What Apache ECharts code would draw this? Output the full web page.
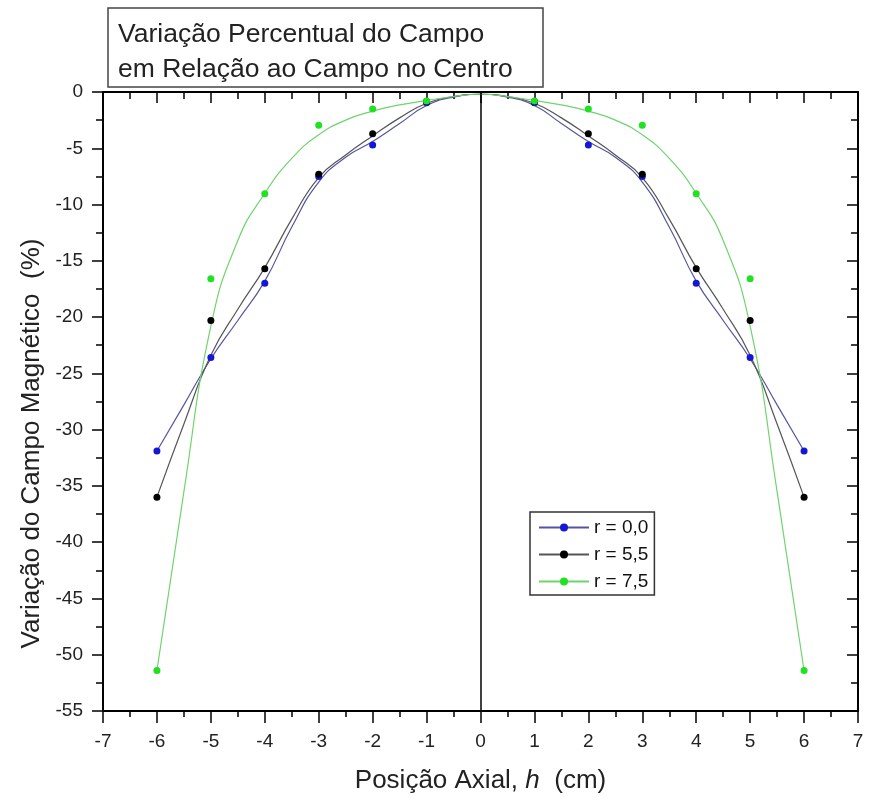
<!DOCTYPE html>
<html>
<head>
<meta charset="utf-8">
<title>Variação Percentual do Campo</title>
<script src="https://cdn.jsdelivr.net/npm/echarts@6/dist/echarts.min.js"></script>
<style>
    html, body { margin: 0; padding: 0; background: #fff; }
    #fieldChart { width: 871px; height: 803px; }
</style>
</head>
<body>
<div id="fieldChart"></div>
<script>
// nomes das curvas
var seriesNames = ['r = 0,0', 'r = 5,5', 'r = 7,5'];

// pontos medidos (posição axial h em cm)
var hPoints = [-6, -5, -4, -3, -2, -1, 1, 2, 3, 4, 5, 6];
var r00Points = [-31.9, -23.6, -17.0, -7.5, -4.7, -0.95, -0.95, -4.7, -7.5, -17.0, -23.6, -31.9];
var r55Points = [-36.0, -20.3, -15.7, -7.3, -3.7, -0.85, -0.85, -3.7, -7.3, -15.7, -20.3, -36.0];
var r75Points = [-51.4, -16.6, -9.05, -2.95, -1.5, -0.8, -0.8, -1.5, -2.95, -9.05, -16.6, -51.4];

var hCurve = [-6, -5.5, -5, -4.5, -4, -3.5, -3, -2.5, -2, -1.5, -1, -0.5, 0,
              0.5, 1, 1.5, 2, 2.5, 3, 3.5, 4, 4.5, 5, 5.5, 6];
var r00Curve = [-31.9, -27.8, -23.7, -20.3, -16.8, -12.0, -8.0, -5.8, -4.4, -2.8, -1.2, -0.45, -0.2,
                -0.45, -1.2, -2.8, -4.4, -5.8, -8.0, -12.0, -16.8, -20.3, -23.7, -27.8, -31.9];
var r55Curve = [-36.0, -29.5, -23.4, -19.3, -15.6, -11.3, -7.6, -5.6, -3.9, -2.3, -1.0, -0.4, -0.2,
                -0.4, -1.0, -2.3, -3.9, -5.6, -7.6, -11.3, -15.6, -19.3, -23.4, -29.5, -36.0];
var r75Curve = [-51.4, -35.5, -20.8, -13.2, -9.0, -5.9, -3.8, -2.5, -1.7, -1.15, -0.75, -0.4, -0.2,
                -0.4, -0.75, -1.15, -1.7, -2.5, -3.8, -5.9, -9.0, -13.2, -20.8, -35.5, -51.4];

// eixos
var xTicks = { min: -7, max: 7, interval: 1 };
var yTicks = { min: -55, max: 0, interval: 5 };

var fieldChart = {

    chart : null,
    pointColors : ['#1418d4', '#000000', '#22e022'],
    lineColors : ['#55559f', '#555555', '#6fd46f'],
    font : 'Liberation Sans, Arial, sans-serif',

    init : function () {
        fieldChart.chart = echarts.init(document.getElementById('fieldChart'));
        fieldChart.chart.setOption(fieldChart.buildOption());
    },

    pairs : function (xs, ys) {
        var res = [];
        for (var i = 0; i < xs.length; i++) {
            res.push([xs[i], ys[i]]);
        }
        return res;
    },

    buildSeries : function () {
        var curves = [r00Curve, r55Curve, r75Curve];
        var points = [r00Points, r55Points, r75Points];
        var series = [];
        // linhas primeiro, para a legenda usar linha + ponto
        for (var i = 0; i < seriesNames.length; i++) {
            series.push({
                name: seriesNames[i],
                type: 'line',
                smooth: 0.5,
                symbol: 'circle',
                showSymbol: false,
                silent: true,
                z: 2,
                itemStyle: { color: fieldChart.pointColors[i] },
                lineStyle: { color: fieldChart.lineColors[i], width: 1.2 },
                data: fieldChart.pairs(hCurve, curves[i])
            });
        }
        for (var j = 0; j < seriesNames.length; j++) {
            series.push({
                name: seriesNames[j],
                type: 'scatter',
                symbol: 'circle',
                symbolSize: 7,
                z: 3,
                itemStyle: { color: fieldChart.pointColors[j], opacity: 1 },
                data: fieldChart.pairs(hPoints, points[j])
            });
        }
        // linha vertical em h = 0
        series[0].markLine = {
            silent: true,
            symbol: 'none',
            label: { show: false },
            lineStyle: { color: '#000', width: 1.5, type: 'solid' },
            data: [{ xAxis: 0 }]
        };
        return series;
    },

    buildOption : function () {
        var axisLine = { show: true, onZero: false, lineStyle: { color: '#000', width: 2 } };
        var labelStyle = { fontSize: 19, color: '#222', fontFamily: fieldChart.font };
        return {
            backgroundColor: '#fff',
            animation: false,
            title: {
                text: 'Variação Percentual do Campo\nem Relação ao Campo no Centro',
                left: 108,
                top: 8,
                padding: [9, 30, 0, 10],
                borderColor: '#444',
                borderWidth: 1.5,
                textStyle: {
                    fontSize: 26.5,
                    fontWeight: 'normal',
                    lineHeight: 35,
                    color: '#222',
                    fontFamily: fieldChart.font
                }
            },
            legend: {
                data: seriesNames,
                orient: 'vertical',
                left: 530,
                top: 512,
                itemWidth: 50,
                itemHeight: 10,
                itemGap: 8,
                padding: [6, 6, 4, 8],
                borderColor: '#333',
                borderWidth: 1.5,
                selectedMode: false,
                textStyle: { fontSize: 19, color: '#111', fontFamily: fieldChart.font }
            },
            grid: { left: 103, right: 13, top: 92, bottom: 92 },
            xAxis: [{
                type: 'value',
                position: 'bottom',
                min: xTicks.min,
                max: xTicks.max,
                interval: xTicks.interval,
                axisLine: axisLine,
                axisTick: { length: 12, lineStyle: { color: '#000', width: 1.5 } },
                minorTick: { show: true, splitNumber: 2, length: 6, lineStyle: { color: '#000', width: 1.5 } },
                splitLine: { show: false },
                axisLabel: Object.assign({ margin: 21 }, labelStyle),
                name: '{a|Posição Axial, }{i|h}{a|  (cm)}',
                nameLocation: 'middle',
                nameGap: 57,
                nameTextStyle: {
                    rich: {
                        a: { fontSize: 26, color: '#222', fontFamily: fieldChart.font },
                        i: { fontSize: 26, color: '#222', fontStyle: 'italic', fontFamily: fieldChart.font }
                    }
                }
            }, {
                type: 'value',
                position: 'top',
                min: xTicks.min,
                max: xTicks.max,
                interval: xTicks.interval,
                axisLine: axisLine,
                axisTick: { inside: true, length: 11, lineStyle: { color: '#000', width: 1.5 } },
                minorTick: { show: true, splitNumber: 2, length: 7, lineStyle: { color: '#000', width: 1.5 } },
                splitLine: { show: false },
                axisLabel: { show: false }
            }],
            yAxis: [{
                type: 'value',
                position: 'left',
                min: yTicks.min,
                max: yTicks.max,
                interval: yTicks.interval,
                axisLine: axisLine,
                axisTick: { length: 11, lineStyle: { color: '#000', width: 1.5 } },
                minorTick: { show: true, splitNumber: 2, length: 7, lineStyle: { color: '#000', width: 1.5 } },
                splitLine: { show: false },
                axisLabel: Object.assign({ margin: 20 }, labelStyle),
                name: 'Variação do Campo Magnético  (%)',
                nameLocation: 'middle',
                nameGap: 55,
                nameTextStyle: {
                    fontSize: 26,
                    color: '#222',
                    fontFamily: fieldChart.font,
                    padding: [0, 84, 0, 0]
                }
            }, {
                type: 'value',
                position: 'right',
                min: yTicks.min,
                max: yTicks.max,
                interval: yTicks.interval,
                axisLine: axisLine,
                axisTick: { inside: true, length: 11, lineStyle: { color: '#000', width: 1.5 } },
                minorTick: { show: true, splitNumber: 2, length: 7, lineStyle: { color: '#000', width: 1.5 } },
                splitLine: { show: false },
                axisLabel: { show: false }
            }],
            series: fieldChart.buildSeries()
        };
    }
};

fieldChart.init();
</script>
</body>
</html>
